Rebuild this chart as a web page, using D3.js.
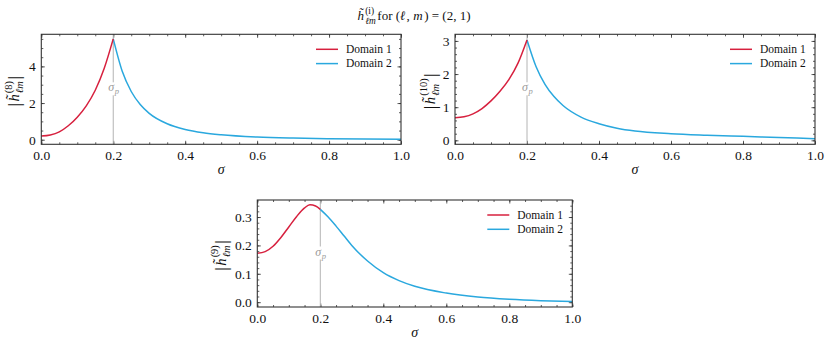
<!DOCTYPE html>
<html>
<head>
<meta charset="utf-8">
<script src="https://cdn.jsdelivr.net/npm/d3@7"></script>
<style>
  body { margin: 0; background: #fff; }
  svg text { font-family: "Liberation Serif", "DejaVu Serif", serif; fill: #111; }
</style>
</head>
<body>
<script>
// sigma grids
var sigma1 = [0, 0.025, 0.05, 0.075, 0.1, 0.125, 0.15, 0.175, 0.2];
var sigma2 = [0.2, 0.225, 0.25, 0.275, 0.3, 0.35, 0.4, 0.45, 0.5, 0.6, 0.7, 0.8, 0.9, 1.0];
var sigma9a = [0, 0.025, 0.05, 0.075, 0.1, 0.125, 0.15, 0.167, 0.185, 0.2];

// |h^(8)|
var h8Dom1 = [0.2, 0.26, 0.43, 0.76, 1.23, 1.85, 2.7, 3.9, 5.5];
var h8Dom2 = [5.5, 3.73, 2.63, 1.92, 1.44, 0.87, 0.56, 0.38, 0.27, 0.146, 0.088, 0.057, 0.038, 0.027];
// |h^(10)|
var h10Dom1 = [0.68, 0.71, 0.8, 0.96, 1.19, 1.48, 1.84, 2.33, 3.03];
var h10Dom2 = [3.03, 2.23, 1.69, 1.32, 1.05, 0.7, 0.5, 0.365, 0.28, 0.2, 0.155, 0.12, 0.085, 0.05];
// |h^(9)|
var h9Dom1 = [0.172, 0.178, 0.197, 0.228, 0.265, 0.302, 0.332, 0.343, 0.339, 0.327];
var h9Dom2 = [0.327, 0.3, 0.268, 0.234, 0.2, 0.145, 0.104, 0.076, 0.056, 0.032, 0.018, 0.01, 0.005, 0.002];

var xTicks = [0, 0.2, 0.4, 0.6, 0.8, 1.0];
var yTicks8 = [0, 2, 4];
var yTicks10 = [0, 1, 2, 3];
var yTicks9 = [0, 0.1, 0.2, 0.3];
var legendLabels = ["Domain 1", "Domain 2"];
var sigmaP = 0.2;

var red = "#d7203e", blue = "#2aa8de";
var FONT = "'Liberation Serif', 'DejaVu Serif', serif";

var panels = [
  { x0: 41.3, x1: 401, y0: 34.3, y1: 144.3, ydom: [-0.25, 5.75], yt: yTicks8, ymin: 0.5, fmt: d3.format("d"),
    idx: "8", s1: sigma1, d1: h8Dom1, s2: sigma2, d2: h8Dom2, ylx: 14 },
  { x0: 455, x1: 815, y0: 34.3, y1: 144.3, ydom: [-0.12, 3.2], yt: yTicks10, ymin: 0.2, fmt: d3.format("d"),
    idx: "10", s1: sigma1, d1: h10Dom1, s2: sigma2, d2: h10Dom2, ylx: 429.5 },
  { x0: 257.3, x1: 572.3, y0: 200, y1: 307, ydom: [-0.017, 0.36], yt: yTicks9, ymin: 0.02, fmt: d3.format(".1f"),
    idx: "9", s1: sigma9a, d1: h9Dom1, s2: sigma2, d2: h9Dom2, ylx: 220.5 }
];

var svg = d3.select("body").append("svg")
    .attr("width", 831)
    .attr("height", 347)
    .style("font-family", FONT);

function w(t) { return t.node().getComputedTextLength(); }

// h~ with stacked super/subscript; returns total width
function hSymbol(g, x, idx, fs, bars) {
  function put(s, o) {
    o = o || {};
    return g.append("text").attr("x", x).attr("y", o.dy || 0)
      .attr("font-size", o.fs || fs)
      .attr("font-style", o.it ? "italic" : "normal")
      .style("font-family", FONT)
      .text(s);
  }
  var start = x, t;
  if (bars) { t = put("|", { fs: fs * 1.2, dy: fs * 0.1 }); x += w(t) + 1.5; }
  t = put("h\u0303", { it: true }); x += w(t) + 1.2;
  var sup = put("(" + idx + ")", { fs: fs * 0.72, dy: -fs * 0.5 });
  var sub = put("\u2113m", { fs: fs * 0.72, it: true, dy: fs * 0.3 });
  x += Math.max(w(sup), w(sub)) + 1.5;
  if (bars) { t = put("|", { fs: fs * 1.2, dy: fs * 0.1 }); x += w(t); }
  return x - start;
}

// title
(function() {
  var g = svg.append("g");
  var fs = 13, x = 0;
  x += hSymbol(g, x, "i", fs, false);
  var parts = [[" for (", false, 0], ["\u2113", true, 1], [",", false, 3.5], ["m", true, 1.5], [") = (2, 1)", false, 0]];
  parts.forEach(function(p) {
    var t = g.append("text").attr("x", x).attr("font-size", fs)
      .attr("font-style", p[1] ? "italic" : "normal").style("font-family", FONT).text(p[0]);
    x += w(t) + p[2];
  });
  g.attr("transform", "translate(" + (414 - x / 2) + ",20)");
})();

panels.forEach(function(p) {
  var x = d3.scaleLinear().domain([0, 1]).range([p.x0, p.x1]);
  var y = d3.scaleLinear().domain(p.ydom).range([p.y1, p.y0]);
  var g = svg.append("g");

  var xMinor = d3.range(0, 1.0001, 0.05);
  var yMinor = d3.range(0, p.ydom[1], p.ymin);

  function strip(a) {
    a.attr("font-family", null);
    a.select(".domain").remove();
    a.selectAll("line").attr("stroke", "#333").attr("stroke-width", 0.8);
  }

  // bottom / top
  g.append("g").attr("transform", "translate(0," + p.y1 + ")")
    .call(d3.axisBottom(x).tickValues(xTicks).tickSize(-3.5).tickPadding(6.5).tickFormat(d3.format(".1f")))
    .call(strip)
    .selectAll("text").attr("font-size", 13.5).style("font-family", FONT).attr("fill", "#111");
  g.append("g").attr("transform", "translate(0," + p.y1 + ")")
    .call(d3.axisBottom(x).tickValues(xMinor).tickSize(-2).tickFormat("")).call(strip);
  g.append("g").attr("transform", "translate(0," + p.y0 + ")")
    .call(d3.axisTop(x).tickValues(xTicks).tickSize(-3.5).tickFormat("")).call(strip);
  g.append("g").attr("transform", "translate(0," + p.y0 + ")")
    .call(d3.axisTop(x).tickValues(xMinor).tickSize(-2).tickFormat("")).call(strip);

  // left / right
  g.append("g").attr("transform", "translate(" + p.x0 + ",0)")
    .call(d3.axisLeft(y).tickValues(p.yt).tickSize(-3.5).tickPadding(5.5).tickFormat(p.fmt))
    .call(strip)
    .selectAll("text").attr("font-size", 13.5).style("font-family", FONT).attr("fill", "#111");
  g.append("g").attr("transform", "translate(" + p.x0 + ",0)")
    .call(d3.axisLeft(y).tickValues(yMinor).tickSize(-2).tickFormat("")).call(strip);
  g.append("g").attr("transform", "translate(" + p.x1 + ",0)")
    .call(d3.axisRight(y).tickValues(p.yt).tickSize(-3.5).tickFormat("")).call(strip);
  g.append("g").attr("transform", "translate(" + p.x1 + ",0)")
    .call(d3.axisRight(y).tickValues(yMinor).tickSize(-2).tickFormat("")).call(strip);

  // sigma_p marker
  g.append("line")
    .attr("x1", x(sigmaP)).attr("x2", x(sigmaP))
    .attr("y1", p.y1).attr("y2", p.y0)
    .attr("stroke", "#b4b4b4").attr("stroke-width", 1);
  var ym = (p.y0 + p.y1) / 2;
  g.append("rect").attr("x", x(sigmaP) - 7).attr("y", ym - 7).attr("width", 14).attr("height", 13).attr("fill", "#fff");
  g.append("text").attr("x", x(sigmaP) - 5).attr("y", ym + 2)
    .attr("font-size", 12).attr("font-style", "italic").style("font-family", FONT).style("fill", "#9a9a9a").text("\u03c3");
  g.append("text").attr("x", x(sigmaP) + 1.5).attr("y", ym + 5)
    .attr("font-size", 8.5).attr("font-style", "italic").style("font-family", FONT).style("fill", "#9a9a9a").text("p");

  // curves
  var line = d3.line().curve(d3.curveMonotoneX)
    .x(function(d) { return x(d[0]); })
    .y(function(d) { return y(d[1]); });
  g.append("path").datum(d3.zip(p.s2, p.d2)).attr("d", line)
    .attr("fill", "none").attr("stroke", blue).attr("stroke-width", 1.5);
  g.append("path").datum(d3.zip(p.s1, p.d1)).attr("d", line)
    .attr("fill", "none").attr("stroke", red).attr("stroke-width", 1.5);

  // frame
  g.append("rect").attr("x", p.x0).attr("y", p.y0)
    .attr("width", p.x1 - p.x0).attr("height", p.y1 - p.y0)
    .attr("fill", "none").attr("stroke", "#333").attr("stroke-width", 1.1);

  // legend
  var lx = p.x1 - 85, ly = p.y0 + 15;
  legendLabels.forEach(function(lab, i) {
    g.append("line").attr("x1", lx).attr("x2", lx + 22)
      .attr("y1", ly + i * 14.3).attr("y2", ly + i * 14.3)
      .attr("stroke", i === 0 ? red : blue).attr("stroke-width", 1.5);
    g.append("text").attr("x", lx + 30).attr("y", ly + i * 14.3 + 3.8)
      .attr("font-size", 11.5).style("font-family", FONT).text(lab);
  });

  // x label
  g.append("text").attr("x", (p.x0 + p.x1) / 2).attr("y", p.y1 + 30)
    .attr("text-anchor", "middle").attr("font-size", 14).attr("font-style", "italic")
    .style("font-family", FONT).text("\u03c3");

  // y label
  var yl = g.append("g");
  var inner = yl.append("g");
  var wd = hSymbol(inner, 0, p.idx, 14.5, true);
  inner.attr("transform", "translate(" + (-wd / 2) + ",5)");
  yl.attr("transform", "translate(" + p.ylx + "," + ((p.y0 + p.y1) / 2 + 2) + ") rotate(-90)");
});
</script>
</body>
</html>
